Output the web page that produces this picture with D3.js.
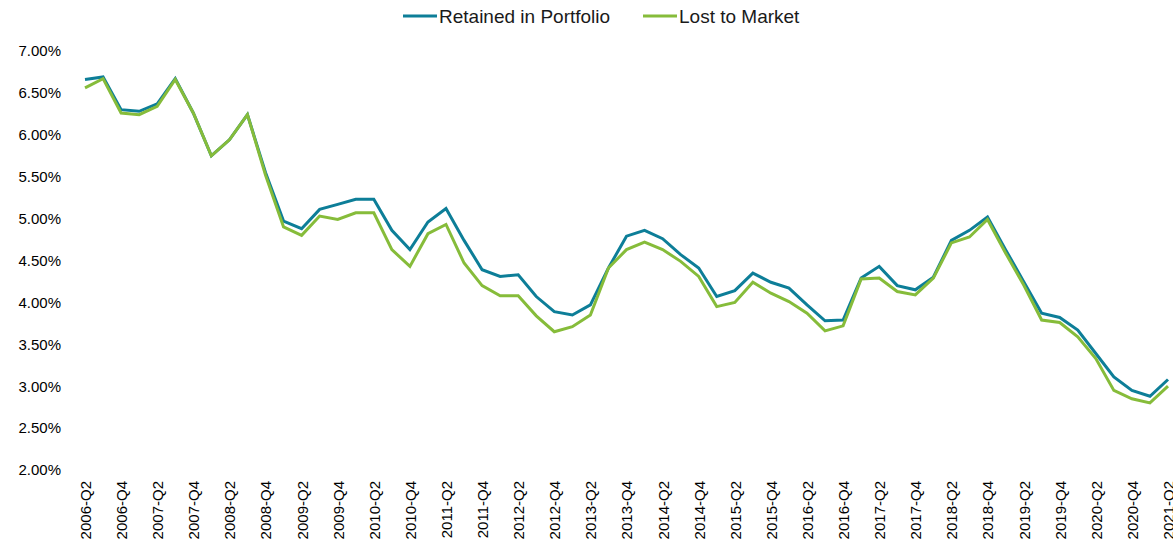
<!DOCTYPE html>
<html>
<head>
<meta charset="utf-8">
<script src="https://cdn.jsdelivr.net/npm/d3@7"></script>
<style>
  body { margin: 0; background: #fff; }
  svg { font-family: "Liberation Sans", Arial, sans-serif; }
</style>
</head>
<body>
<div id="chart"></div>
<script>
// quarters 2006-Q2 .. 2021-Q2
const quarters = [];
for (let y = 2006; y <= 2021; y++) {
  for (let q = 1; q <= 4; q++) {
    if ((y === 2006 && q < 2) || (y === 2021 && q > 2)) continue;
    quarters.push(`${y}-Q${q}`);
  }
}

const retained = [
  6.66, 6.69, 6.30, 6.28, 6.37, 6.67, 6.26, 5.75, 5.94, 6.24,
  5.55, 4.97, 4.88, 5.11, 5.17, 5.23, 5.23, 4.86, 4.63, 4.96,
  5.12, 4.74, 4.39, 4.31, 4.33, 4.07, 3.89, 3.85, 3.97, 4.41,
  4.79, 4.86, 4.76, 4.57, 4.41, 4.07, 4.14, 4.35, 4.24, 4.17,
  3.97, 3.78, 3.79, 4.29, 4.43, 4.20, 4.15, 4.30, 4.74, 4.86,
  5.02, 4.63, 4.25, 3.87, 3.82, 3.67, 3.39, 3.11, 2.95, 2.88,
  3.08
];

const lost = [
  6.56, 6.67, 6.26, 6.24, 6.34, 6.66, 6.26, 5.75, 5.94, 6.24,
  5.52, 4.90, 4.80, 5.03, 4.99, 5.07, 5.07, 4.63, 4.43, 4.82,
  4.93, 4.47, 4.20, 4.08, 4.08, 3.84, 3.65, 3.71, 3.85, 4.41,
  4.63, 4.72, 4.63, 4.49, 4.31, 3.95, 4.00, 4.24, 4.11, 4.01,
  3.87, 3.66, 3.72, 4.28, 4.29, 4.13, 4.09, 4.29, 4.71, 4.78,
  4.99, 4.59, 4.21, 3.79, 3.76, 3.59, 3.33, 2.95, 2.85, 2.80,
  3.00
];

const yTicks = [2, 2.5, 3, 3.5, 4, 4.5, 5, 5.5, 6, 6.5, 7];

const seriesNames = ["Retained in Portfolio", "Lost to Market"];
const seriesColors = ["#0d7e98", "#86bc3a"];
const seriesValues = [retained, lost];

const width = 1173, height = 548;
const margin = { top: 51, right: 5, bottom: 78, left: 85 };

const svg = d3.select("#chart").append("svg")
  .attr("width", width)
  .attr("height", height);

const x = d3.scalePoint()
  .domain(quarters)
  .range([margin.left, 1168]);

const y = d3.scaleLinear()
  .domain([2, 7])
  .range([height - margin.bottom, margin.top]);

// y axis
const yAxis = svg.append("g")
  .attr("transform", `translate(${margin.left - 24},0)`)
  .call(d3.axisLeft(y).tickValues(yTicks).tickSize(0).tickPadding(0)
    .tickFormat(d => d.toFixed(2) + "%"));
yAxis.select(".domain").remove();
yAxis.selectAll("text")
  .style("font-size", "15px")
  .attr("fill", "#000");

// x axis
const xAxis = svg.append("g")
  .attr("transform", `translate(0,${y(2)})`)
  .call(d3.axisBottom(x)
    .tickValues(quarters.filter((d, i) => i % 2 === 0))
    .tickSize(0));
xAxis.select(".domain").remove();
xAxis.selectAll("text")
  .style("font-size", "15px")
  .attr("fill", "#000")
  .attr("text-anchor", "end")
  .attr("transform", "rotate(-90)")
  .attr("x", -11)
  .attr("y", 0)
  .attr("dy", "0.36em");

// lines
const line = d3.line()
  .x((d, i) => x(quarters[i]))
  .y(d => y(d));

seriesValues.forEach((vals, k) => {
  svg.append("path")
    .datum(vals)
    .attr("fill", "none")
    .attr("stroke", seriesColors[k])
    .attr("stroke-width", 3)
    .attr("stroke-linejoin", "miter")
    .attr("d", line);
});

// legend
const legendX = [403, 643];
const legend = svg.append("g");
seriesNames.forEach((name, k) => {
  legend.append("line")
    .attr("x1", legendX[k]).attr("x2", legendX[k] + 34)
    .attr("y1", 16).attr("y2", 16)
    .attr("stroke", seriesColors[k])
    .attr("stroke-width", 3);
  legend.append("text")
    .attr("x", legendX[k] + 36)
    .attr("y", 23)
    .style("font-size", "19px")
    .attr("fill", "#1a1a1a")
    .text(name);
});
</script>
</body>
</html>
